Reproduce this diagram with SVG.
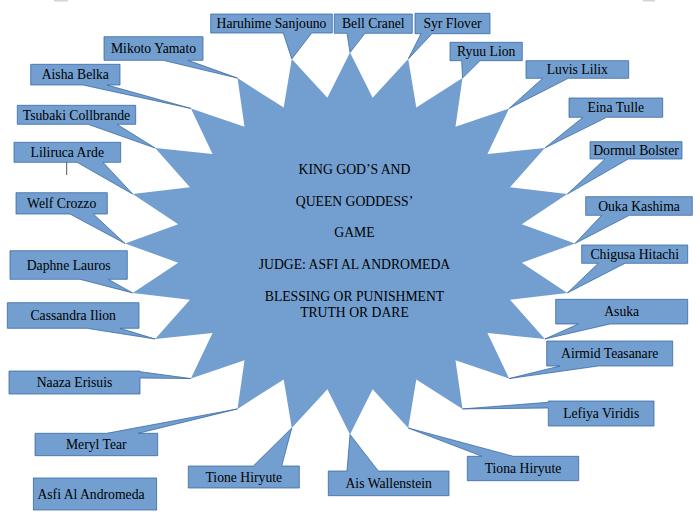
<svg xmlns="http://www.w3.org/2000/svg" width="700" height="522" viewBox="0 0 700 522">
<style>
.star{fill:#729fcf;stroke:none}
.co{fill:#729fcf;stroke:#3465a4;stroke-width:0.75;stroke-linejoin:miter}
text{font-family:"Liberation Serif","Times New Roman",serif;font-size:13.7px;fill:#000}
.l{text-anchor:middle}
.mark{fill:#d4d4d4}
</style>
<rect width="700" height="522" fill="#ffffff"/>
<rect class="mark" x="54" y="0" width="14" height="1.5"/>
<rect class="mark" x="642.7" y="0" width="12.3" height="1.5"/>
<g id="star">
<polygon class="star" points="350,52.5 372.61,97.69 408.23,59.01 416.30,107.62 462.5,78.09 455.47,126.82 509.10,108.44 487.45,153.97 544.86,148 510.06,187.22 567.33,194.07 521.77,224.30 575,243.5 521.77,262.70 567.33,292.93 510.06,299.78 544.86,339 487.45,333.03 509.10,378.56 455.47,360.18 462.5,408.91 416.30,379.38 408.23,427.99 372.61,389.31 350,434.5 327.39,389.31 291.77,427.99 283.70,379.38 237.5,408.91 244.53,360.18 190.90,378.56 212.55,333.03 155.14,339 189.94,299.78 132.67,292.93 178.23,262.70 125,243.5 178.23,224.30 132.67,194.07 189.94,187.22 155.14,148 212.55,153.97 190.90,108.44 244.53,126.82 237.5,78.09 283.70,107.62 291.77,59.01 327.39,97.69"/>
<text class="l" x="354.5" y="174">KING GOD’S AND</text>
<text class="l" x="354.5" y="206">QUEEN GODDESS’</text>
<text class="l" x="354.5" y="237">GAME</text>
<text class="l" x="354.5" y="269">JUDGE: ASFI AL ANDROMEDA</text>
<text class="l" x="354.5" y="301">BLESSING OR PUNISHMENT</text>
<text class="l" x="354.5" y="317">TRUTH OR DARE</text>
</g>
<g id="connectors">
<line x1="66.7" y1="160.7" x2="66.7" y2="175" stroke="#555" stroke-width="1"/>
</g>
<g id="haruhime"><path class="co" d="M210.7,14 H332.3 V33 H311.7 L291.77,59.01 L283.3,33 H210.7 Z"/><text class="l" x="271.5" y="28">Haruhime Sanjouno</text></g>
<g id="bell"><path class="co" d="M334.3,14 H412.3 V33.3 H365 L350,52.5 L347,33.3 H334.3 Z"/><text class="l" x="373.3" y="28.2">Bell Cranel</text></g>
<g id="syr"><path class="co" d="M415,13.3 H490 V33.7 H432 L408.23,59.01 L421,33.7 H415 Z"/><text class="l" x="452.5" y="28">Syr Flover</text></g>
<g id="ryuu"><path class="co" d="M450,42.3 H522.3 V60.7 H480 L462.5,78.09 L461.7,60.7 H450 Z"/><text class="l" x="486.2" y="56">Ryuu Lion</text></g>
<g id="luvis"><path class="co" d="M526,60.7 H628.7 V78.3 H568.3 L509.1,108.44 L542.7,78.3 H526 Z"/><text class="l" x="577.3" y="74">Luvis Lilix</text></g>
<g id="eina"><path class="co" d="M569,98 H662.7 V117.3 H606.7 L544.86,148 L583,117.3 H569 Z"/><text class="l" x="615.8" y="112.2">Eina Tulle</text></g>
<g id="dormul"><path class="co" d="M590,141.7 H682 V159 H628.3 L567.33,194.07 L605,159 H590 Z"/><text class="l" x="636" y="155">Dormul Bolster</text></g>
<g id="ouka"><path class="co" d="M585.7,196.7 H692.3 V215.3 H629.3 L575,243.5 L601.7,215.3 H585.7 Z"/><text class="l" x="639" y="210.5">Ouka Kashima</text></g>
<g id="chigusa"><path class="co" d="M581.7,245 H687.7 V263.3 H625 L567.33,292.93 L598.3,263.3 H581.7 Z"/><text class="l" x="634.7" y="258.7">Chigusa Hitachi</text></g>
<g id="asuka"><path class="co" d="M555.7,299.3 H687.7 V324 H610 L544.86,339 L578.3,324 H555.7 Z"/><text class="l" x="621.7" y="316.2">Asuka</text></g>
<g id="airmid"><path class="co" d="M546.7,341 H672.7 V366 H598.3 L509.1,378.56 L560,366 H546.7 Z"/><text class="l" x="609.7" y="358">Airmid Teasanare</text></g>
<g id="lefiya"><path class="co" d="M548.3,401 H654 V426 H548.3 V408 L462.5,408.91 L548.3,402.3 Z"/><text class="l" x="601.2" y="418">Lefiya Viridis</text></g>
<g id="tiona"><path class="co" d="M467.3,456.3 H482 L408.23,427.99 L513.3,456.3 H578.7 V480.7 H467.3 Z"/><text class="l" x="523" y="473">Tiona Hiryute</text></g>
<g id="ais"><path class="co" d="M328.3,471 H347 L350,434.5 L378.3,471 H449 V495.7 H328.3 Z"/><text class="l" x="388.7" y="487.8">Ais Wallenstein</text></g>
<g id="tione"><path class="co" d="M188.3,466 H253.3 L291.77,427.99 L281.7,466 H299.3 V488 H188.3 Z"/><text class="l" x="243.8" y="481.5">Tione Hiryute</text></g>
<g id="meryl"><path class="co" d="M35,433.3 H106.7 L237.5,408.91 L138.3,433.3 H157.7 V455.7 H35 Z"/><text class="l" x="96.3" y="449">Meryl Tear</text></g>
<g id="naaza"><path class="co" d="M9,371 H140 V371.7 L190.9,378.56 L140,378 V394 H9 Z"/><text class="l" x="74.5" y="387">Naaza Erisuis</text></g>
<g id="cassandra"><path class="co" d="M7.3,302.7 H139 V328.3 H120 L155.14,339 L86.7,328.3 H7.3 Z"/><text class="l" x="73.2" y="320">Cassandra Ilion</text></g>
<g id="daphne"><path class="co" d="M10,250.7 H127.3 V279.3 H108.3 L132.67,292.93 L80,279.3 H10 Z"/><text class="l" x="68.7" y="270">Daphne Lauros</text></g>
<g id="welf"><path class="co" d="M16,192.7 H107.3 V214 H93.3 L125,243.5 L70,214 H16 Z"/><text class="l" x="61.7" y="208">Welf Crozzo</text></g>
<g id="liliruca"><path class="co" d="M14,142.3 H120.7 V162.3 H103 L132.67,194.07 L77,162.3 H14 Z"/><text class="l" x="67.3" y="157">Liliruca Arde</text></g>
<g id="tsubaki"><path class="co" d="M17.3,105.3 H135.7 V124.3 H117 L155.14,148 L88,124.3 H17.3 Z"/><text class="l" x="76.5" y="119.5">Tsubaki Collbrande</text></g>
<g id="aisha"><path class="co" d="M30.7,64.3 H120 V85 H107 L190.9,108.44 L83,85 H30.7 Z"/><text class="l" x="75.3" y="79">Aisha Belka</text></g>
<g id="mikoto"><path class="co" d="M104,36.7 H203 V60.3 H188 L237.5,78.09 L163,60.3 H104 Z"/><text class="l" x="153.5" y="53">Mikoto Yamato</text></g>
<g id="asfi"><rect class="co" x="33.3" y="478" width="123.4" height="32"/><text class="l" x="91" y="498.5">Asfi Al Andromeda</text></g>
</svg>
